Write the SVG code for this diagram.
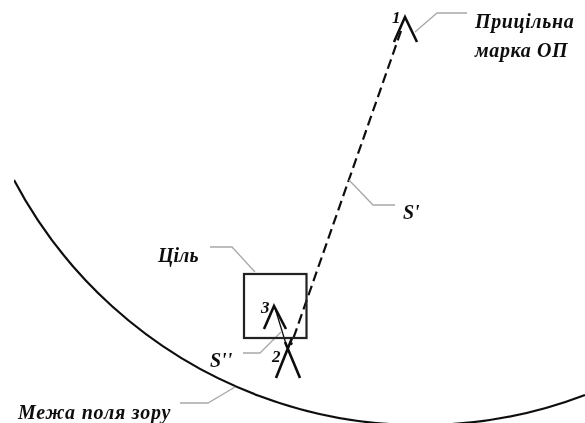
<svg xmlns="http://www.w3.org/2000/svg" width="585" height="423" viewBox="0 0 585 423">
<style>
.t{font-family:"Liberation Serif","Times New Roman",serif;font-style:italic;font-weight:bold;fill:#111}
.n{font-size:17px}
.w{font-size:20px}
.l{fill:none;stroke:#a8a8a8;stroke-width:1.3}
.k{fill:none;stroke:#111;stroke-width:2.2}
.m{fill:none;stroke:#111;stroke-width:2.6}
</style>
<defs><filter id="soft" x="0" y="0" width="100%" height="100%"><feGaussianBlur stdDeviation="0.4"/></filter></defs>
<rect width="585" height="423" fill="#fff"/>
<g filter="url(#soft)">
<g id="connectors">
<path class="k" d="M14 180A460 460 0 0 0 585 395"/>
<path class="k" stroke-dasharray="10 5" d="M401 31L291 345"/>
<path class="k" style="stroke-width:1.3" d="M275 308L286 344"/>
<path class="l" d="M415 32L437 13H467"/>
<path class="l" d="M349 180L373 205H395"/>
<path class="l" d="M210 247H232L255 272"/>
<path class="l" d="M281 332L260 353H243"/>
<path class="l" d="M235 387L208 403H180"/>
</g>
<g id="target"><rect x="244" y="274" width="62.500" height="64" fill="none" stroke="#222" stroke-width="2.200"/><text class="t w" x="158" y="262">Ціль</text></g>
<g id="mark1"><path class="m" d="M394 42L405 17L417 42"/><text class="t n" x="392" y="23">1</text><text class="t w" x="475" y="28" letter-spacing=".6">Прицільна</text><text class="t w" x="475" y="57" letter-spacing=".6">марка ОП</text></g>
<g id="mark2"><path class="m" d="M276 378L292 338M285 342L300 378"/><text class="t n" x="272" y="362">2</text></g>
<g id="mark3"><path class="m" d="M264 329L274 306L286 329"/><text class="t n" x="261" y="313">3</text></g>
<g id="s1"><text class="t" x="403" y="219" font-size="20">S'</text></g>
<g id="s2"><text class="t" x="210" y="367" font-size="20">S''</text></g>
<g id="boundary"><text class="t w" x="18" y="419" letter-spacing=".8">Межа поля зору</text></g>
</g>
</svg>
